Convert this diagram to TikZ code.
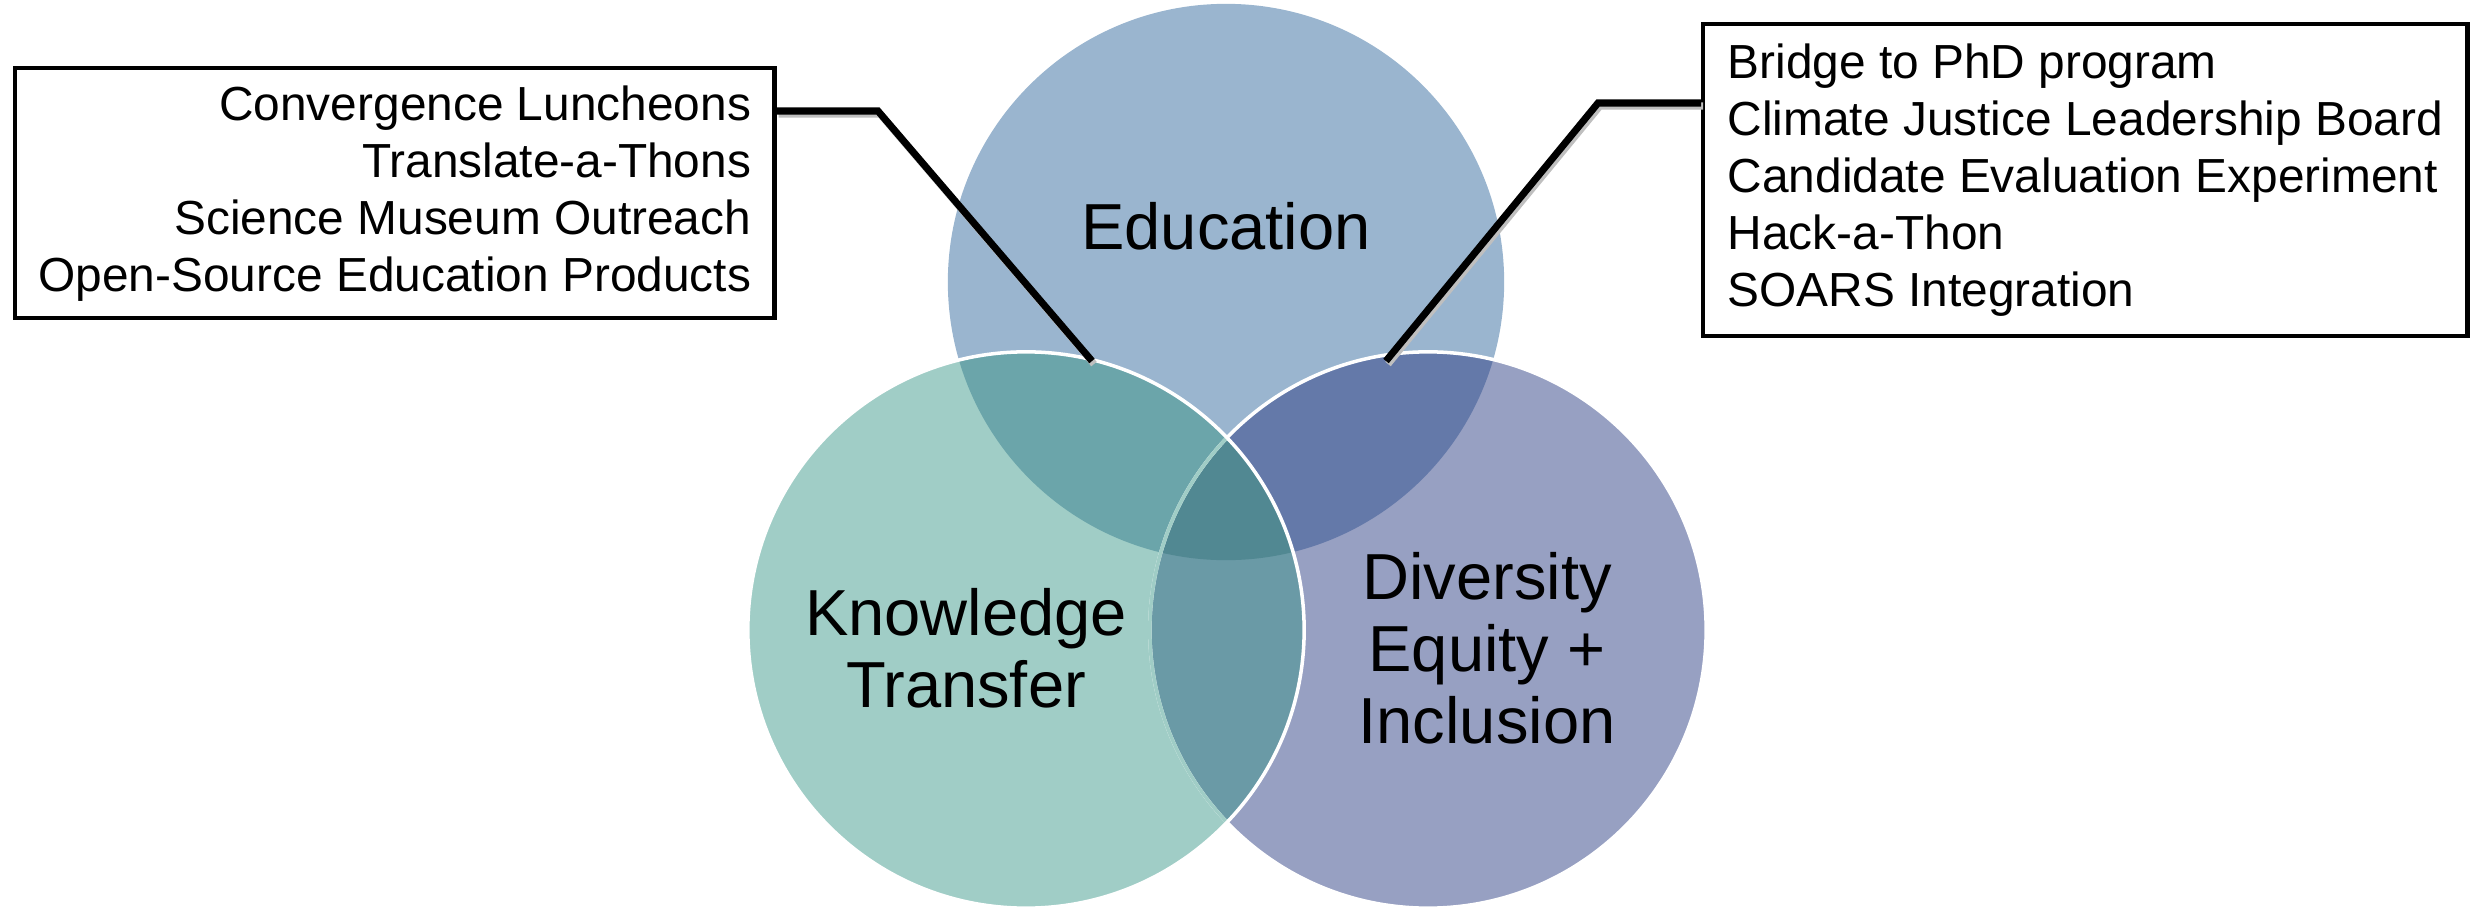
\documentclass[tikz,border=0pt]{standalone}
\usepackage{fontspec}
\setmainfont{Liberation Sans}
\usetikzlibrary{positioning}
\definecolor{vennedu}{HTML}{9AB5CF}
\definecolor{vennkt}{HTML}{A0CDC6}
\definecolor{venndei}{HTML}{97A0C2}
\definecolor{vennedukt}{HTML}{6BA5AA}
\definecolor{venneddei}{HTML}{6479A9}
\definecolor{vennktdei}{HTML}{6A9AA6}
\definecolor{vennall}{HTML}{518892}
\newcommand{\vennrad}{2.78cm}

\begin{document}
\begin{tikzpicture}[
  x=0.01cm,
  y=-0.01cm,
  every node/.style={font=\fontsize{13.6}{16.2}\selectfont, text=black},
  listbox/.style={draw=black, line width=1.2pt, fill=white, inner xsep=0pt,
    inner ysep=0pt, anchor=north west},
  leader/.style={black, line width=2pt},
  leadershade/.style={black!25, line width=2pt},
  rim/.style={white, line width=1pt},
  faintrim/.style={vennkt, line width=1pt},
  setlabel/.style={font=\fontsize{18.5}{20.5}\selectfont, align=center}
]
\useasboundingbox (0,0) rectangle (2481,909);

\coordinate (educ) at (1226,282);
\coordinate (ktc)  at (1026,630);
\coordinate (deic) at (1428,630);

% =====================================================================
% the three sets and their overlaps
% =====================================================================
\fill[vennedu] (educ) circle[radius=\vennrad];
\fill[venndei] (deic) circle[radius=\vennrad];
\fill[vennkt]  (ktc)  circle[radius=\vennrad];

\begin{scope}
  \clip (educ) circle[radius=\vennrad];
  \fill[vennedukt] (ktc) circle[radius=\vennrad];
  \fill[venneddei] (deic) circle[radius=\vennrad];
\end{scope}
\begin{scope}
  \clip (ktc) circle[radius=\vennrad];
  \fill[vennktdei] (deic) circle[radius=\vennrad];
  \clip (educ) circle[radius=\vennrad];
  \fill[vennall] (deic) circle[radius=\vennrad];
\end{scope}

\draw[rim] (deic) circle[radius=\vennrad];
\begin{scope}
  \clip (ktc) circle[radius=\vennrad];
  \draw[faintrim] (deic) circle[radius=\vennrad];
\end{scope}
\draw[rim] (ktc) circle[radius=\vennrad];

\node[setlabel] (edulabel) at (1226,226) {Education};
\node[setlabel] (ktlabel)  at (966,648)  {Knowledge\\Transfer};
\node[setlabel] (deilabel) at (1487,648) {Diversity\\Equity +\\Inclusion};

% =====================================================================
% call-out boxes
% =====================================================================
\node[listbox, align=right, minimum width=7.59cm, minimum height=2.5cm]
  (outreach) at (13,66)
  {Convergence Luncheons\\Translate-a-Thons\\Science Museum Outreach\\
   Open-Source Education Products};
\node[listbox, align=left, minimum width=7.64cm, minimum height=3.12cm]
  (programs) at (1701,22)
  {Bridge to PhD program\\Climate Justice Leadership Board\\
   Candidate Evaluation Experiment\\Hack-a-Thon\\SOARS Integration};

\coordinate (lbend)  at (878,111);
\coordinate (ktedu)  at (1092,361);
\coordinate (rbend)  at (1598,103);
\coordinate (deiedu) at (1386,361);
\draw[leadershade, transform canvas={xshift=0.02cm, yshift=-0.03cm}]
  (outreach.east |- lbend) -- (lbend) -- (ktedu);
\draw[leadershade, transform canvas={xshift=0.02cm, yshift=-0.03cm}]
  (programs.west |- rbend) -- (rbend) -- (deiedu);
\draw[leader] (outreach.east |- lbend) -- (lbend) -- (ktedu);
\draw[leader] (programs.west |- rbend) -- (rbend) -- (deiedu);

\end{tikzpicture}
\end{document}
